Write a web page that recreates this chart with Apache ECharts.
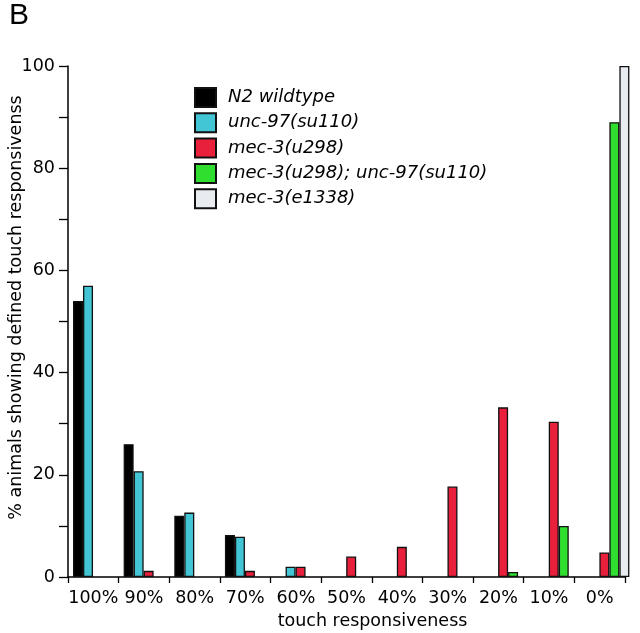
<!DOCTYPE html>
<html>
<head>
<meta charset="utf-8">
<script src="https://cdn.jsdelivr.net/npm/echarts@6/dist/echarts.min.js"></script>
<style>
html,body{margin:0;padding:0;background:#fff;}
#main{width:640px;height:633px;}
</style>
</head>
<body>
<div id="main"></div>
<script>
// ---- data ----
var categories = ['100%', '90%', '80%', '70%', '60%', '50%', '40%', '30%', '20%', '10%', '0%'];
var seriesNames = ['N2 wildtype', 'unc-97(su110)', 'mec-3(u298)', 'mec-3(u298); unc-97(su110)', 'mec-3(e1338)'];
var n2Wildtype   = [54, 26, 12, 8.2, null, null, null, null, null, null, null];
var unc97        = [57, 20.7, 12.6, 7.9, 2, null, null, null, null, null, null];
var mec3u298     = [null, 1.2, null, 1.2, 2, 4, 5.9, 17.7, 33.2, 30.4, 4.8];
var mec3unc97    = [null, null, null, null, null, null, null, null, 1, 10, 89];
var mec3e1338    = [null, null, null, null, null, null, null, null, null, null, 100];
var yTicks = [0, 20, 40, 60, 80, 100];

var colors = ['#000000', '#42c6d6', '#e8203c', '#30de30', '#e8ecf0'];
var allData = [n2Wildtype, unc97, mec3u298, mec3unc97, mec3e1338];

var FONT = '"DejaVu Sans", Verdana, sans-serif';
var chart = echarts.init(document.getElementById('main'), null, {renderer: 'canvas'});

var series = allData.map(function (d, i) {
  return {
    name: seriesNames[i],
    type: 'bar',
    xAxisIndex: 1,
    yAxisIndex: 1,
    data: d,
    barWidth: 10,
    barGap: '0%',
    itemStyle: {color: colors[i], borderColor: '#111', borderWidth: 1.3},
    emphasis: {disabled: true}
  };
});

chart.setOption({
  animation: false,
  backgroundColor: '#ffffff',
  title: {
    text: 'B', left: 9, top: 1, padding: 0,
    textStyle: {fontFamily: '"Liberation Sans", Arial, sans-serif', fontSize: 30, fontWeight: 'normal', color: '#000'}
  },
  legend: {
    orient: 'vertical',
    left: 194, top: 87,
    padding: 0,
    itemWidth: 21, itemHeight: 19,
    itemGap: 4.3,
    icon: 'rect',
    data: seriesNames,
    textStyle: {fontFamily: FONT, fontStyle: 'italic', fontSize: 18, color: '#000', padding: [0, 0, 0, 7]}
  },
  grid: [
    {left: 68, top: 66, width: 557, bottom: 56, containLabel: false, outerBoundsMode: 'none'},
    {left: 72.7, top: 66, width: 557, bottom: 56, containLabel: false, outerBoundsMode: 'none'}
  ],
  xAxis: [
    {
      gridIndex: 0, type: 'category', data: categories,
      boundaryGap: true,
      name: 'touch responsiveness', nameLocation: 'middle', nameGap: 35,
      nameMoveOverlap: false,
      nameTextStyle: {fontFamily: FONT, fontSize: 17.5, color: '#000', padding: [0, 0, 0, 52]},
      axisLine: {lineStyle: {color: '#000', width: 1.5}},
      axisTick: {show: true, alignWithLabel: false, length: 6, lineStyle: {color: '#000', width: 1.3}},
      axisLabel: {fontFamily: FONT, fontSize: 17.5, color: '#000', margin: 12, interval: 0},
      splitLine: {show: false}
    },
    {
      gridIndex: 1, type: 'category', data: categories,
      show: false
    }
  ],
  yAxis: [
    {
      gridIndex: 0, type: 'value', min: 0, max: 100, interval: 10,
      name: '% animals showing defined touch responsivenss', nameLocation: 'middle', nameGap: 43,
      nameRotate: 90,
      nameMoveOverlap: false,
      nameTextStyle: {fontFamily: FONT, fontSize: 17.5, color: '#000', padding: [0, 0, 0, 28]},
      axisLine: {show: true, lineStyle: {color: '#000', width: 1.5}},
      axisTick: {show: true, length: 9, lineStyle: {color: '#000', width: 1.3}},
      axisLabel: {
        fontFamily: FONT, fontSize: 17.5, color: '#000', margin: 13,
        formatter: function (v) { return yTicks.indexOf(v) >= 0 ? String(v) : ''; }
      },
      splitLine: {show: false}
    },
    {
      gridIndex: 1, type: 'value', min: 0, max: 100, show: false, splitLine: {show: false}
    }
  ],
  series: series
});
</script>
</body>
</html>
